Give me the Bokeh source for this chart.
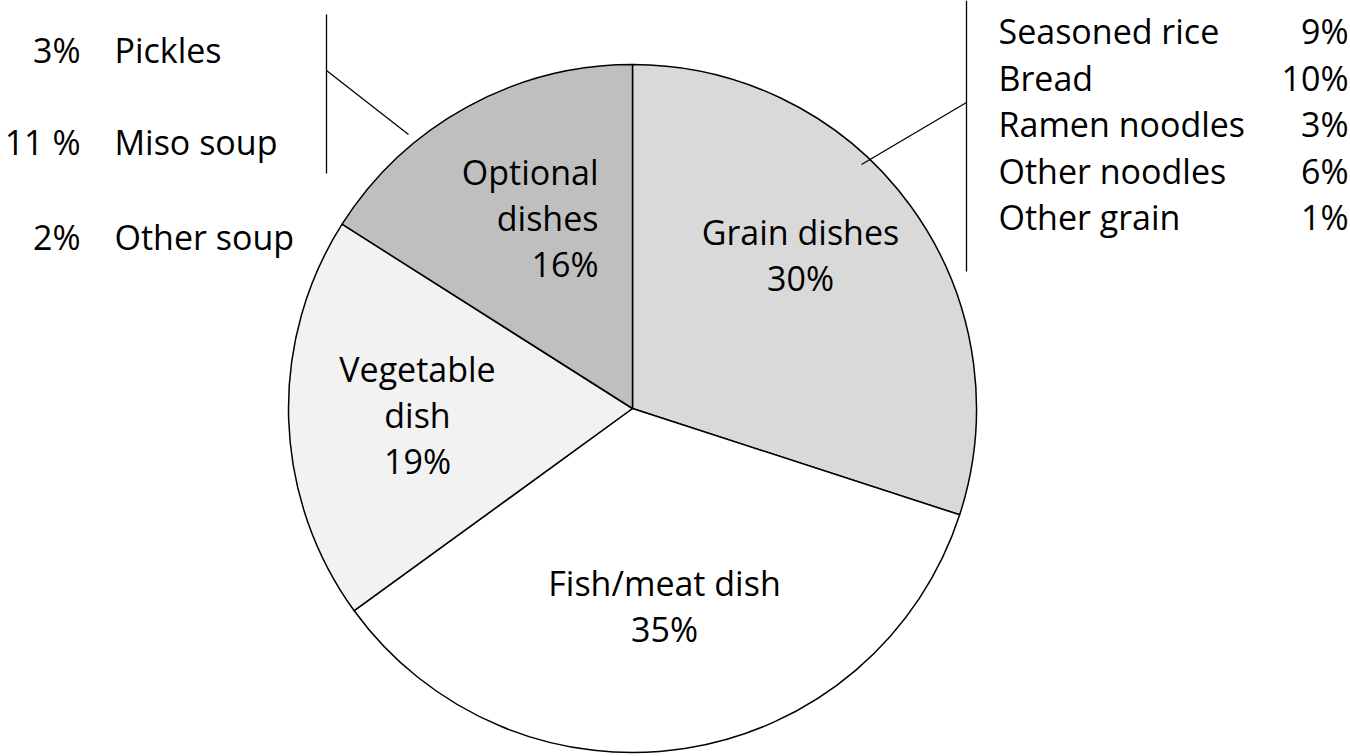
import math
from bokeh.plotting import figure
from bokeh.models import Range1d
from bokeh.core.properties import value
from bokeh.embed import file_html
from bokeh.resources import INLINE

# ---- data ----
categories = ["Grain dishes", "Fish/meat dish", "Vegetable dish", "Optional dishes"]
shares = [30, 35, 19, 16]
colors = ["#d9d9d9", "#ffffff", "#f2f2f2", "#bfbfbf"]

grain_items = ["Seasoned rice", "Bread", "Ramen noodles", "Other noodles", "Other grain"]
grain_pcts = ["9%", "10%", "3%", "6%", "1%"]

optional_items = ["Pickles", "Miso soup", "Other soup"]
optional_pcts = ["3%", "11 %", "2%"]

# ---- layout (image pixel coordinates; y converted below) ----
W, H = 1350, 756
def Y(img_y):
    return H - img_y

FONT = value("Open Sans")
FS = "34px"

p = figure(width=W, height=H, output_backend="svg", toolbar_location=None,
           x_range=Range1d(0, W), y_range=Range1d(0, H),
           min_border=0, min_border_left=0, min_border_right=0,
           min_border_top=0, min_border_bottom=0)
p.axis.visible = False
p.grid.visible = False
p.outline_line_color = None
p.background_fill_color = "white"

cx, cy, r = 632, Y(408), 344
total = sum(shares)
start = math.pi / 2
starts, ends = [], []
for s in shares:
    a = s / total * 2 * math.pi
    starts.append(start)
    ends.append(start - a)
    start -= a

p.wedge(x=[cx] * len(shares), y=[cy] * len(shares), radius=r,
        start_angle=starts, end_angle=ends, direction="clock",
        fill_color=colors, line_color="black", line_width=1.5)

# slice labels (y = visual centre of each line)
def label_lines(lines, x, centres, align):
    p.text(x=[x] * len(lines), y=[Y(c) for c in centres], text=lines,
           text_font=FONT, text_font_size=FS, text_align=align,
           text_baseline="middle", text_color="black")

label_lines(["Grain dishes", f"{shares[0]}%"], 800, [231, 277], "center")
label_lines(["Fish/meat dish", f"{shares[1]}%"], 664, [582, 628], "center")
label_lines(["Vegetable", "dish", f"{shares[2]}%"], 417, [368, 414, 460], "center")
label_lines(["Optional", "dishes", f"{shares[3]}%"], 598, [171, 217, 263], "right")

# grain breakdown list (right)
gc = [30, 77, 123, 170, 216]
p.text(x=[998] * len(grain_items), y=[Y(c) for c in gc], text=grain_items,
       text_font=FONT, text_font_size=FS, text_align="left", text_baseline="middle")
p.text(x=[1348] * len(grain_pcts), y=[Y(c) for c in gc], text=grain_pcts,
       text_font=FONT, text_font_size=FS, text_align="right", text_baseline="middle")

# optional breakdown list (left)
oc = [49, 141, 236]
p.text(x=[80] * len(optional_pcts), y=[Y(c) for c in oc], text=optional_pcts,
       text_font=FONT, text_font_size=FS, text_align="right", text_baseline="middle")
p.text(x=[114] * len(optional_items), y=[Y(c) for c in oc], text=optional_items,
       text_font=FONT, text_font_size=FS, text_align="left", text_baseline="middle")

# leader brackets
p.line(x=[966, 966], y=[Y(0), Y(271)], line_color="black", line_width=1.3)
p.line(x=[966, 861], y=[Y(102), Y(164)], line_color="black", line_width=1.3)
p.line(x=[326, 326], y=[Y(14), Y(173)], line_color="black", line_width=1.3)
p.line(x=[326, 408], y=[Y(70), Y(134)], line_color="black", line_width=1.3)

open("out.html", "w").write(file_html(p, INLINE))
